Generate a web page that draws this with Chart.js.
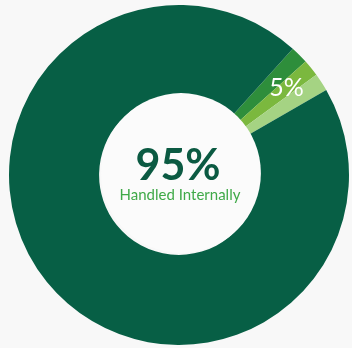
<!DOCTYPE html>
<html>
<head>
<meta charset="utf-8">
<title>Handled Internally</title>
<script src="https://cdn.jsdelivr.net/npm/chart.js@4/dist/chart.umd.min.js"></script>
<style>
  html, body { margin: 0; padding: 0; background: #f8f8f8; }
  #wrap { position: relative; width: 352px; height: 348px; }
</style>
</head>
<body>
<div id="wrap"><canvas id="chartDonut"></canvas></div>
<script>
// share of requests: three small outsourced parts, then the internal share
const labels = ["Outsourced A", "Outsourced B", "Outsourced C", "Handled Internally"];
const values = [1.7, 1.6, 1.7, 95];
const colors = ["#2e8e3b", "#7bb83e", "#a5d383", "#075f45"];

const centerText = { big: "95%", small: "Handled Internally" };
const sliceText = "5%";

// center title + label on the small group
const donutText = {
  id: "donutText",
  afterDraw(chart){
    const ctx = chart.ctx;
    const arcs = chart.getDatasetMeta(0).data;
    const a0 = arcs[0], a2 = arcs[2];
    const cx = a0.x, cy = a0.y;

    // hole fill
    ctx.save();
    ctx.beginPath();
    ctx.arc(cx + 2, cy - 2, a0.innerRadius, 0, Math.PI * 2);
    ctx.fillStyle = "#fbfbfb";
    ctx.fill();

    ctx.textAlign = "center";
    ctx.textBaseline = "alphabetic";
    ctx.fillStyle = "#0b5a42";
    ctx.font = "700 43px Lato, sans-serif";
    ctx.fillText(centerText.big, cx - 1, cy + 5);

    ctx.fillStyle = "#3fa948";
    ctx.font = "400 15px Lato, sans-serif";
    ctx.fillText(centerText.small, cx + 1, cy + 25);

    // label in the middle of the small slices
    const mid = (a0.startAngle + a2.endAngle) / 2;
    const r = a0.innerRadius + (a0.outerRadius - a0.innerRadius) * 0.65;
    ctx.fillStyle = "#ffffff";
    ctx.font = "400 25px Lato, sans-serif";
    ctx.textBaseline = "middle";
    ctx.fillText(sliceText, cx + Math.cos(mid) * r, cy + Math.sin(mid) * r);
    ctx.restore();
  }
};

new Chart(document.getElementById("chartDonut"), {
  type: "doughnut",
  data: {
    labels: labels,
    datasets: [{
      data: values,
      backgroundColor: colors,
      borderWidth: 0
    }]
  },
  options: {
    responsive: true,
    maintainAspectRatio: false,
    animation: false,
    events: [],
    rotation: 42,
    cutout: "47%",
    layout: { padding: { left: 9, right: 3, top: 5, bottom: 3 } },
    plugins: {
      legend: { display: false },
      tooltip: { enabled: false }
    }
  },
  plugins: [donutText]
});
</script>
</body>
</html>
